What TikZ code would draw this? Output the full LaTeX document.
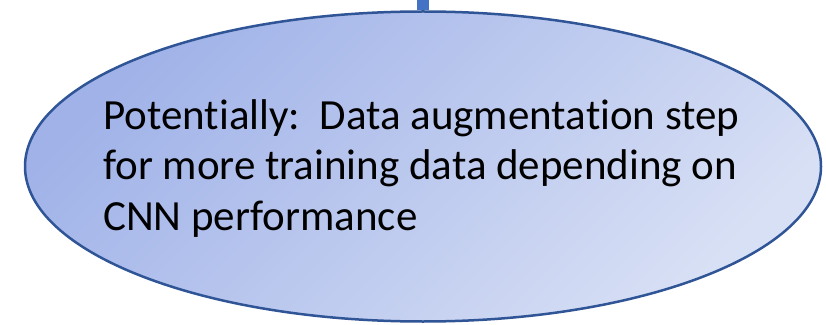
\documentclass[tikz,border=0pt]{standalone}
\usepackage{fontspec}
\setmainfont{Carlito}[Ligatures=CommonOff]
\usepackage{xcolor}
\usepackage{tikz}
\usetikzlibrary{shapes.geometric}

\definecolor{edgeblue}{HTML}{2F5597}
\definecolor{barblue}{HTML}{4472C4}
\definecolor{fillhi}{HTML}{A0B2E8}
\definecolor{filllo}{HTML}{D8E0F5}

\begin{document}
\begin{tikzpicture}[line cap=butt,line join=round,x=1.0pt,y=1.0pt,
	stepbubble/.style={ellipse,draw=edgeblue,line width=2.5pt,inner sep=0pt,
		minimum width=796pt,minimum height=310pt,
		left color=fillhi,right color=filllo,shading angle=45},
	steptext/.style={anchor=base west,inner sep=0pt,align=left,
		font=\fontsize{43}{50}\selectfont}]
			\useasboundingbox (0,0) rectangle (826,324);
			\node[stepbubble] (augment) at (423,157.5) {};
			\coordinate (from) at (augment.north |- 0,324);
			\draw [barblue,line width=12pt] (from) -- (augment.north);
			% base anchor sits on the last line
			\node[steptext] (augtext) at (103,94) {Potentially:\ \ Data augmentation step\\for more training data depending on\\CNN performance};
			\end{tikzpicture}
\end{document}
